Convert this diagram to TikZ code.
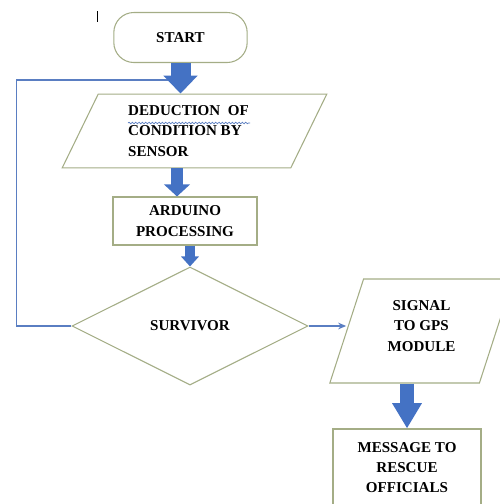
\documentclass[tikz,border=0pt]{standalone}
\usepackage{fontspec}
\setmainfont{Liberation Serif}
\usetikzlibrary{shapes.geometric, arrows.meta, positioning, calc, decorations.pathmorphing}
\definecolor{bordo}{HTML}{A4AD86}
\definecolor{blu}{HTML}{4472C4}
\definecolor{ritorno}{HTML}{5A7EC2}

\begin{document}
\begin{tikzpicture}[
  x=0.75pt, y=-0.75pt,
  font=\fontsize{11.3}{15.3}\selectfont\bfseries,
  blocco/.style={draw=bordo, line width=0.8pt, fill=white, inner sep=0pt, align=center},
  terminale/.style={blocco, rectangle, rounded corners=15pt},
  processo/.style={blocco, rectangle},
  dati/.style={blocco, trapezium, trapezium left angle=#1, trapezium right angle=180-#1},
  decisione/.style={blocco, diamond},
  freccione/.style n args={3}{draw=blu, line width=#1, -{Triangle[length=#2,width=#3]}},
  ritorno/.style={draw=ritorno, line width=0.9pt}
]
\useasboundingbox (0,0) rectangle (500,504);

% ---- cursore
\draw[line width=0.7pt] (97,11) -- (97,22);

% ---- blocchi del diagramma -------------------------------------------
\node[terminale, minimum width=100pt, minimum height=37.5pt] (start) at (180.5,37.5) {START};
\node[dati=64, minimum width=198.75pt, minimum height=54pt, align=left, text depth=-3pt]
     (dedu) at (194.5,131) {DEDUCTION\ \ OF\hspace*{9pt}\\CONDITION BY\\SENSOR};
\node[processo, minimum width=108pt, minimum height=36pt] (ard) at (185,221) {ARDUINO\\PROCESSING};
\node[decisione, minimum width=177pt, minimum height=88.5pt] (dia) at (190,326) {SURVIVOR};
\node[dati=72, minimum width=107pt, minimum height=78pt, text depth=7.5pt]
     (sig) at (421.5,331) {SIGNAL\\TO GPS\\MODULE};
\node[processo, minimum width=111pt, minimum height=57.75pt] (msg) at (407,467.5) {MESSAGE TO\\RESCUE\\OFFICIALS};

% sottolineatura ondulata del correttore
\draw[draw=ritorno, line width=0.5pt, decorate,
      decoration={snake, amplitude=0.6pt, segment length=2.5pt}] (128,123) -- (250,123);

% ---- ritorno dal rombo ----------------------------------------------
\coordinate (rientro) at (start.south |- 0,80);
\draw[ritorno] (dia.west) -- ++(-55,0) |- (rientro);
\draw[ritorno, -{Stealth[length=6pt,width=5pt]}] (dia.east) -- (dia.east -| sig.west);

% ---- frecce blu --------------------------------------------------------
\draw[freccione={15pt}{13.5pt}{25pt}] (start.south) -- (start.south |- dedu.north);
\draw[freccione={9pt}{9pt}{19pt}] ([xshift=-6pt]ard.north |- dedu.south) -- ([xshift=-6pt]ard.north);
\draw[freccione={8pt}{7.5pt}{13pt}] (ard.south -| dia.north) -- (dia.north);
\draw[freccione={10pt}{19pt}{21pt}] (sig.south -| msg.north) -- (msg.north);

\end{tikzpicture}
\end{document}
